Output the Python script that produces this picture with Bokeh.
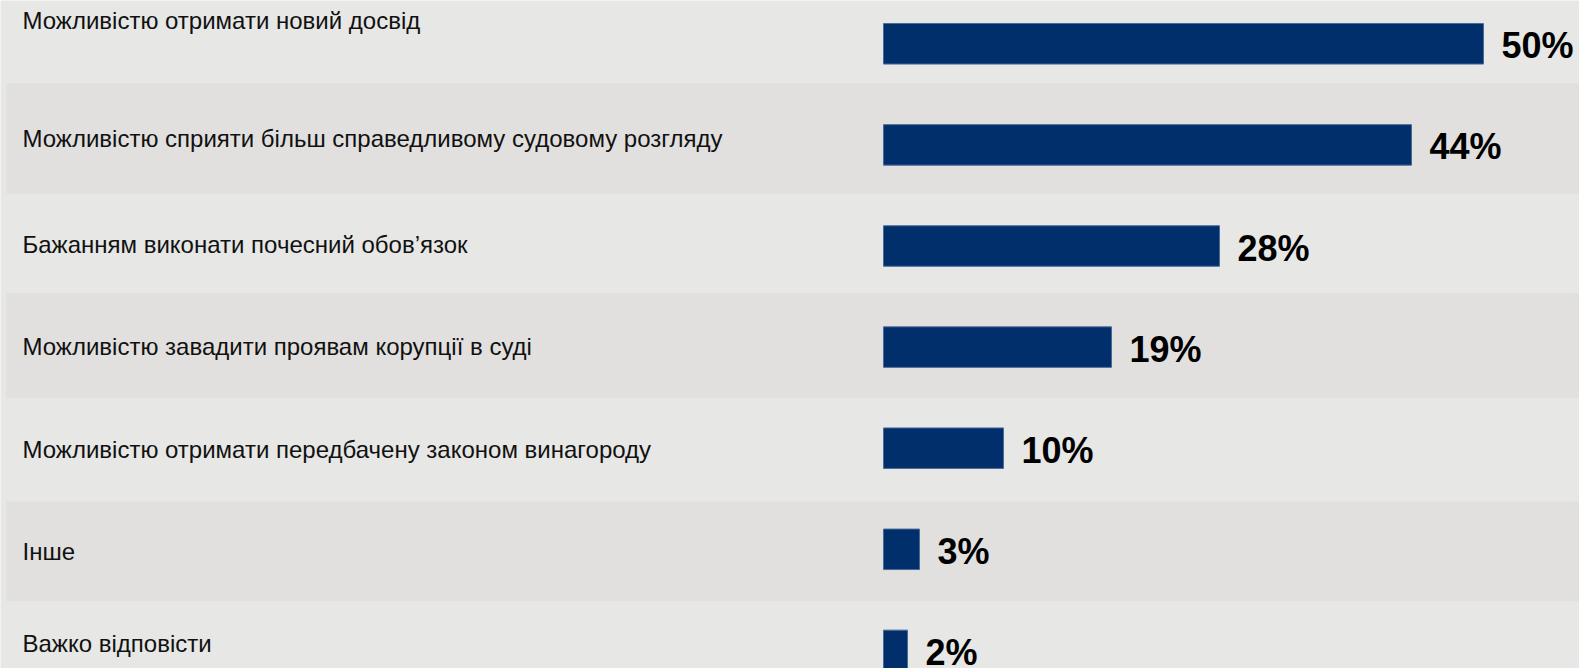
from bokeh.plotting import figure
from bokeh.models import Range1d, ColumnDataSource
from bokeh.core.properties import value
from bokeh.embed import file_html
from bokeh.resources import INLINE

# ---- data ----
categories = [
    "Можливістю отримати новий досвід",
    "Можливістю сприяти більш справедливому судовому розгляду",
    "Бажанням виконати почесний обов’язок",
    "Можливістю завадити проявам корупції в суді",
    "Можливістю отримати передбачену законом винагороду",
    "Інше",
    "Важко відповісти",
]
values = [50, 44, 28, 19, 10, 3, 2]
value_labels = ["50%", "44%", "28%", "19%", "10%", "3%", "2%"]

# ---- layout (pixels within the figure) ----
W, H = 1579, 668
ZERO_X = 883.0        # x pixel of 0 %
PX_PER_PCT = 12.0
ROW0_Y = 43.3         # y pixel of first bar centre
ROW_STEP = 101.1
LABEL_X = 22.0
label_baselines_px = [29.3, 146.7, 252.7, 355.0, 458.3, 560.0, 651.7]
LABEL_SHIFT = -9.0     # renderer baseline correction
VALUE_SHIFT = 13.0 - 11.0
bands_px = [(82.7, 193.3), (292.7, 397.7), (501.0, 600.7)]
BAND_LEFT_PX = 6.0

def xd(px):
    return (px - ZERO_X) / PX_PER_PCT

def yd(py):
    return (py - ROW0_Y) / ROW_STEP

BG = "#e7e7e5"
BAND = "#e1e0de"
BAR = "#002f6b"

p = figure(width=W, height=H, output_backend="svg", toolbar_location=None,
           x_range=Range1d(xd(0), xd(W)), y_range=Range1d(yd(H), yd(0)),
           min_border=0, min_border_left=0, min_border_right=0,
           min_border_top=0, min_border_bottom=0)
p.axis.visible = False
p.grid.visible = False
p.outline_line_color = None
p.background_fill_color = BG
p.border_fill_color = BG

# background bands
p.quad(left=[xd(BAND_LEFT_PX)] * len(bands_px), right=[xd(W + 5)] * len(bands_px),
       top=[yd(a) for a, b in bands_px], bottom=[yd(b) for a, b in bands_px],
       fill_color=BAND, line_color=None)

rows = list(range(len(categories)))
src = ColumnDataSource(dict(
    y=rows, v=values, lab=value_labels, cat=categories,
    vx=[v + 18.0 / PX_PER_PCT for v in values],
    vy=[r + VALUE_SHIFT / ROW_STEP for r in rows],
    ly=[yd(b + LABEL_SHIFT) for b in label_baselines_px],
    lx=[xd(LABEL_X)] * len(rows),
))

p.hbar(y="y", left=0, right="v", height=40.5 / ROW_STEP, source=src,
       fill_color=BAR, line_color="#4a6a98", line_width=1)

p.text(x="vx", y="vy", text="lab", source=src,
       text_font=value("Liberation Sans"), text_font_style="bold",
       text_font_size="36px", text_color="#000000",
       text_align="left", text_baseline="alphabetic")

p.text(x="lx", y="ly", text="cat", source=src,
       text_font=value("Liberation Sans"), text_font_size="24px",
       text_color="#111111", text_align="left", text_baseline="alphabetic")

open("out.html", "w").write(file_html(p, INLINE))
